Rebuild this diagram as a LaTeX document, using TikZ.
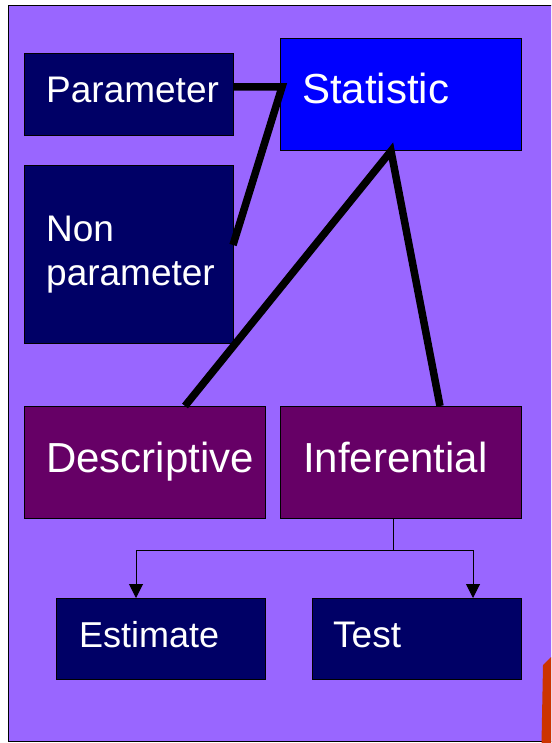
\documentclass[tikz,border=0pt]{standalone}
\usepackage{fontspec}
\setmainfont{Liberation Sans}
\usetikzlibrary{arrows.meta}
\definecolor{bgpurple}{HTML}{9966FF}
\definecolor{navy}{HTML}{000066}
\definecolor{statblue}{HTML}{0000FF}
\definecolor{plum}{HTML}{660066}
\definecolor{rust}{HTML}{CC3300}
\tikzset{
  box/.style={draw=black, line width=0.9pt, rectangle, anchor=north west, inner sep=0pt},
  navybox/.style={box, fill=navy},
  plumbox/.style={box, fill=plum},
  bluebox/.style={box, fill=statblue},
  lbl/.style={text=white, anchor=base west, inner sep=0pt},
  thick link/.style={line width=7.5pt, line join=miter},
  thin link/.style={line width=1pt},
  arrowlink/.style={thin link, -{Triangle[width=14pt,length=14pt]}}
}
\begin{document}
\begin{tikzpicture}[x=1pt, y=-1pt]
\useasboundingbox (0,0) rectangle (551,743);
\clip (0,0) rectangle (551,743);
\fill[white] (0,0) rectangle (551,743);
% slide panel
\draw[fill=bgpurple, line width=1pt] (8.5,5.5) rectangle (560,741.5);
\fill[rust] (541.5,743) -- (543,665) -- (551,657) -- (551,743) -- cycle;

% boxes
\node[navybox, minimum width=209pt, minimum height=82pt] (param) at (24,53) {};
\node[bluebox, minimum width=241pt, minimum height=112pt] (stat) at (280,38) {};
\node[navybox, minimum width=209pt, minimum height=178pt] (nonparam) at (24,165) {};
\node[plumbox, minimum width=241pt, minimum height=112pt] (desc) at (24,406) {};
\node[plumbox, minimum width=241pt, minimum height=112pt] (infer) at (280,406) {};
\node[navybox, minimum width=209pt, minimum height=81pt] (est) at (56,598) {};
\node[navybox, minimum width=209pt, minimum height=81pt] (test) at (312,598) {};

% labels
\node[lbl, font=\fontsize{37}{44}\selectfont] (paramT) at (46,103) {Parameter};
\node[lbl, font=\fontsize{42}{50}\selectfont] (statT) at (302,104) {Statistic};
\node[lbl, font=\fontsize{37}{44}\selectfont] (nonT) at (46,241) {Non};
\node[lbl, font=\fontsize{37}{44}\selectfont] (paramT2) at (46,285) {parameter};
\node[lbl, font=\fontsize{42}{50}\selectfont] (descT) at (46,472) {Descriptive};
\node[lbl, font=\fontsize{42}{50}\selectfont] (inferT) at (303,472) {Inferential};
\node[lbl, font=\fontsize{36}{43}\selectfont] (estT) at (79,647) {Estimate};
\node[lbl, font=\fontsize{37}{44}\selectfont] (testT) at (333,647) {Test};

% junction points
\coordinate (statL) at (282,87);
\coordinate (statB) at (391,151);
\coordinate (descTop) at (185,406);
\coordinate (inferTop) at (440,406);
\coordinate (nonR) at (233,245);
\coordinate (inferB) at (393,518);
\coordinate (split) at (393,550);

% thick connectors
\draw[thick link] (param.east |- statL) -- (statL) -- (nonR);
\draw[thick link] (descTop) -- (statB) -- (inferTop);

% branching arrows
\draw[thin link] (inferB) -- (split);
\draw[arrowlink] (split) -| (136,598);
\draw[arrowlink] (split) -| (473,598);
\end{tikzpicture}
\end{document}
